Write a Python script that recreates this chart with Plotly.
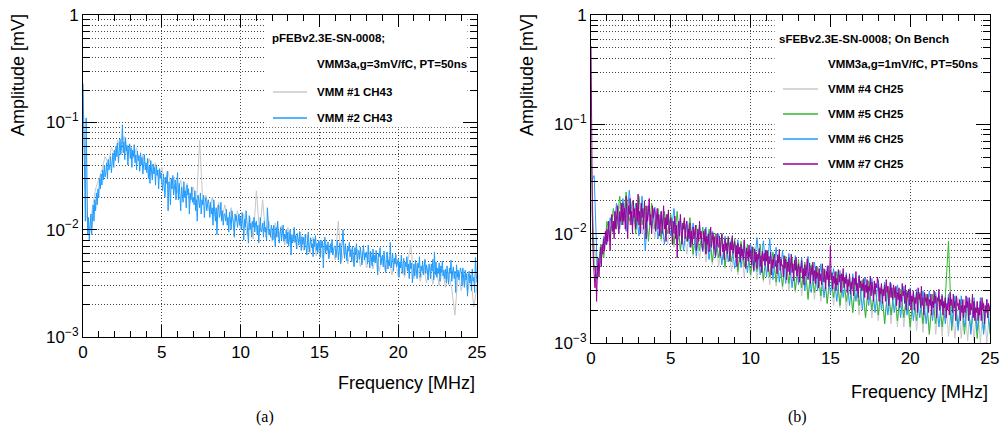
import numpy as np
import plotly.graph_objects as go

# FFT amplitude spectra; values in uV (converted to mV for plotting)
FINE_STEP = 0.05   # MHz between bins for the front traces
COARSE_STEP = 0.2  # MHz between bins for the traces behind them

# panel (a): pFEBv2.3E-SN-0008
vmm1_ch43_uv = [
    200, 14, 9, 16, 24, 30, 36, 48, 42, 58, 52, 68, 56, 74, 50, 62, 46, 58, 40, 50,
    36, 46, 33, 42, 30,
    38, 27, 35, 24, 31, 22, 29, 20, 27, 18,
    25, 17, 68, 18, 21, 15, 20, 13.5, 18, 12.5,
    17, 11.5, 16, 10.5, 15, 10, 14, 9, 13, 8.2,
    23, 9.5, 19, 8.5, 12, 7.8, 11.5, 8.5, 11, 7.2,
    10.5, 7, 10, 6.6, 9.5, 6.4, 9, 6, 8.6, 5.7,
    8, 5.5, 7.8, 5.3, 7.4, 5.2, 12, 5, 7, 4.8,
    6.8, 4.7, 6.6, 4.5, 6.4, 4.4, 6.2, 4.3, 6, 4.1,
    5.8, 4, 5.6, 3.8, 5.4, 3.7, 5.2, 3.6, 5, 7.2,
    3.5, 4.8, 3.3, 4.6, 3.2, 4.5, 3.1, 4.3, 3, 4.2,
    2.9, 4, 2.8, 1.6, 3.9, 2.7, 3.8, 2.6, 3.6, 1.9,
    3.0,
]
vmm2_ch43_uv = [
    230, 90, 30, 12, 110, 40, 9, 13, 8, 11, 14, 9, 13, 17, 12, 19, 15, 22, 17, 24,
    20, 30, 24, 33, 26, 36, 29, 40, 31, 34, 42, 30, 45, 36, 40, 48, 34, 44, 52, 38,
    55, 44, 60, 48, 64, 42, 58, 70, 50, 62, 95, 52, 66, 45, 72, 54, 61, 40, 57, 63,
    46, 58, 38, 55, 48, 62, 42, 50, 36, 54, 44, 49, 35, 52, 40, 47, 33, 45, 50, 36,
    42, 34, 46, 30, 39, 27, 44, 35, 29, 41, 33, 38, 26, 40, 32, 36, 24, 37, 30, 34,
    29, 23, 33, 26, 20, 31, 27, 35, 15, 28, 25, 17, 30, 24, 32, 21, 27, 29, 19, 26,
    34, 19, 27, 21, 15, 25, 22, 18, 28, 20, 23, 16, 26, 21, 24, 14, 22, 19, 25, 18,
    20, 17, 23, 15, 19, 12, 21, 18, 16, 22, 14, 19, 17, 21, 13, 18, 20, 15, 17, 19,
    17, 13, 18, 14, 16, 11, 19, 15, 12, 16, 9, 15, 17, 13, 14, 18, 12, 15, 11, 14,
    14, 12, 15.5, 11, 13, 9.5, 14.5, 12.5, 10, 15, 13, 11, 8.5, 14, 12, 13.5, 10.5, 12, 14, 11,
    13, 10, 14.5, 11.5, 8, 12.5, 10.5, 15, 11, 9, 7.5, 13.5, 10, 11.5, 8.5, 12, 10.5, 13, 9.5, 11.5,
    12, 9, 11, 7.5, 10.5, 13, 9.5, 10, 11.5, 8.5, 12, 9.5, 10.5, 8, 16, 12.5, 9, 10, 8.5, 11,
    10, 8, 11, 9, 7, 10.5, 8.5, 12, 9.5, 7.5, 9, 10.5, 8, 9.5, 11, 7.8, 9, 8.2, 10, 7.4,
    9.5, 7, 8.5, 10, 5.8, 9, 7.5, 8.2, 10.5, 7.6, 8.8, 6.6, 9.2, 8, 7.2, 9.6, 7.8, 6.4, 8.6, 7.3,
    8.5, 6.5, 9, 7.2, 5.8, 8, 9.5, 6.2, 7.6, 8.4, 6.8, 7.4, 5.6, 8.2, 7, 8.8, 6.4, 7.5, 6.1, 7.9,
    7.5, 5.5, 8, 6.8, 7.8, 4.4, 7.1, 8.5, 6, 7.2, 6.4, 7.7, 5.4, 6.9, 7.4, 6.1, 8.1, 5.8, 6.6, 7,
    7, 5.5, 6.5, 8, 5.2, 6.8, 7.5, 4.8, 6.2, 7.2, 10, 6.6, 5.4, 7.4, 6, 5.1, 6.9, 6.3, 7.6, 5.6,
    6.5, 5, 7, 5.6, 4.5, 6.8, 5.8, 7.4, 4.9, 6, 6.4, 5.3, 6.9, 5.7, 4.7, 6.2, 7.1, 5.2, 6.1, 5.5,
    6.2, 4.8, 7.2, 5.5, 4.4, 6.3, 5.2, 4.6, 6.6, 5, 5.8, 4.9, 6.4, 5.3, 3.8, 6, 5.6, 6.8, 4.7, 5.4,
    5.8, 4.5, 6.3, 5, 4, 5.5, 6.2, 4.3, 5.2, 4.6, 7.6, 4.4, 5.1, 6, 4.1, 5.4, 4.8, 5.9, 4.5, 5,
    5.3, 3.6, 5, 4.4, 5.8, 3.9, 4.7, 5.4, 3.8, 5, 4.5, 5.6, 4.1, 4.8, 3.5, 5.2, 4.3, 4.9, 3.2, 4.6,
    4.8, 3.7, 5.2, 4.2, 3.5, 4.9, 4.4, 5.6, 3.6, 4.6, 4.1, 5, 3.8, 4.5, 5.3, 3.9, 4.7, 4.2, 3.4, 4.8,
    4.5, 3.5, 4.8, 4.1, 5.3, 3.4, 6.2, 3.8, 5, 3.6, 4.4, 3.9, 4.9, 3.3, 4.6, 4, 5.1, 3.7, 4.2, 3.5,
    4.3, 3.2, 4.6, 3.8, 3.1, 4.4, 3.9, 5.2, 3.3, 4, 4.5, 3.5, 4.1, 2.6, 4.7, 3.6, 4.2, 3.4, 3.9, 4.4,
    4, 3, 4.4, 3.6, 2.9, 4.2, 3.4, 3.9, 2.4, 3.7, 4.1, 3.2, 3.8, 2.7, 4.3, 3.3, 3.6, 2.6, 5.5, 3.9,
    3.2,
]

# panel (b): sFEBv2.3E-SN-0008, on bench
vmm4_ch25_uv = [
    20, 8, 4.8, 7, 7.2, 11.5, 10, 15, 12, 18, 13, 19, 12, 17, 11, 18, 10, 16.5, 9.5, 16,
    9, 15, 8.5, 14, 8,
    13, 7.5, 12.5, 7, 12, 6.5, 11.5, 6.2, 11, 5.8,
    10.5, 5.5, 10, 5.2, 9.5, 5, 9, 4.8, 8.6, 4.5,
    8.2, 4.2, 7.8, 4, 7.5, 3.9, 7.2, 3.8, 7, 3.6,
    6.6, 3.4, 6.4, 3.3, 6.1, 3.1, 5.9, 3, 5.6, 2.9,
    5.4, 2.7, 5.2, 2.6, 5, 2.5, 4.8, 2.4, 4.6, 2.3,
    4.4, 2.2, 4.3, 2.1, 4.1, 2, 4, 1.9, 3.8, 1.8,
    3.7, 1.7, 3.6, 1.7, 3.5, 1.6, 3.4, 1.5, 3.3, 1.5,
    3.2, 1.4, 3.1, 1.4, 3, 1.3, 2.9, 1.3, 2.9, 1.25,
    2.8, 1.2, 2.8, 1.2, 2.7, 1.15, 2.7, 1.15, 2.6, 1.1,
    2.6, 1.1, 2.5, 1.05, 2.5, 1.05, 2.4, 1.0, 2.4, 1.0,
    2.3,
]
vmm5_ch25_uv = [
    60, 5, 3.8, 8, 6, 13, 9, 17, 11, 22, 12, 24, 13, 20, 10, 22, 12, 18, 8.5, 19,
    11, 17, 9, 16, 10,
    15, 8, 16, 7, 13, 8.5, 14, 6.5, 12, 7,
    11.5, 6.5, 11, 5.5, 10, 6, 10, 5, 9.5, 5.5,
    9, 4.5, 8.5, 5, 8, 4.2, 7.5, 4.5, 8, 3.8,
    7, 4, 6.8, 3.6, 6.5, 3.3, 6.2, 3.5, 6, 3,
    5.8, 3.2, 5.5, 2.5, 5.2, 2.9, 5, 2.7, 4.8, 2.3,
    4.6, 2.6, 4.5, 2.2, 4.3, 2.4, 4.1, 1.9, 3.9, 2.2,
    3.8, 1.7, 3.7, 2, 3.5, 1.8, 3.4, 1.5, 3.3, 1.8,
    3.2, 1.6, 3.1, 1.7, 3, 1.4, 2.9, 1.6, 2.9, 1.5,
    2.8, 1.2, 2.8, 1.5, 2.7, 1.4, 2.6, 8.5, 1.3, 2.6,
    1.4, 2.5, 1.2, 2.5, 1.3, 2.4, 1.1, 2.4, 1.3, 2.3,
    1.2,
]
vmm6_ch25_uv = [
    30, 34, 4.2, 5.5, 9.5, 8, 14, 10, 19, 11, 21, 10.5, 25, 12, 19, 9.5, 22, 7, 18, 11,
    17.5, 9, 16, 8, 15,
    9.5, 17, 8, 14, 7, 13, 7.5, 12.5, 6.2, 12,
    6.8, 11.5, 5.8, 10.5, 6, 10, 5.2, 9.5, 5.5, 9,
    4.8, 8.8, 4.9, 8.5, 4.4, 8, 4.5, 9.2, 4.2, 8.6,
    4, 9, 3.8, 7.5, 3.6, 7, 3.5, 6.6, 3.2, 6.3,
    3.4, 6, 3, 6.2, 2.9, 5.5, 3, 5.3, 2.6, 5,
    2.8, 4.8, 2.4, 4.6, 2.6, 4.4, 2.2, 4.3, 2.4, 4.2,
    2, 4, 2.2, 3.9, 1.9, 3.8, 2, 3.6, 1.8, 3.5,
    1.9, 3.4, 1.7, 3.3, 1.8, 3.2, 1.6, 3.1, 1.7, 3,
    1.5, 3, 1.6, 2.9, 1.4, 2.8, 1.5, 2.8, 1.4, 2.7,
    1.3, 2.7, 1.4, 2.6, 1.2, 2.6, 1.3, 2.6, 1.2, 2.5,
    1.3,
]
vmm7_ch25_uv = [
    520, 25, 9, 5.5, 4, 3.2, 5, 2.4, 4.5, 6, 4, 5.5, 7.5, 5, 8, 6.5, 9, 7, 10.5, 8,
    11, 8.5, 13, 10, 7, 12, 15, 10.5, 13, 9, 16, 11, 14, 18, 12, 10, 16, 13, 19, 12,
    19, 13, 17, 11, 22, 14, 9, 18, 15, 21, 12, 16, 10, 20, 14, 17, 11, 19, 13, 23,
    12, 16, 10, 19, 14, 17, 11, 20, 15, 9, 18, 13, 16, 21, 12, 15, 10, 18, 14, 17,
    16, 10.5, 14, 17, 11, 15, 9.5, 13.5, 16, 10, 12.5, 18, 11, 14, 8.5, 15, 12, 16.5, 10, 13,
    14, 11, 8, 13, 10, 14.5, 9, 12, 6, 11, 13, 9.5, 15, 10.5, 8, 12.5, 11, 14, 9, 12,
    13, 8.5, 11, 9, 12.5, 7.5, 10.5, 8, 11.5, 9, 10, 12, 7, 9.5, 11, 8.5, 13, 9, 10.5, 7.8,
    7, 10.5, 8.5, 11, 6.5, 9.5, 8, 10, 6.8, 9, 11.5, 7.5, 8.8, 10.2, 7.2, 9.4, 6.2, 8.6, 10, 7.8,
    7.5, 9.5, 6.2, 8.5, 10, 6.8, 8, 5.8, 9, 7, 8.2, 6.5, 9.2, 7.4, 5.6, 8.4, 7.1, 9.6, 6.6, 7.9,
    8.5, 6, 7.8, 5, 8.2, 6.5, 7.5, 5.5, 8, 6.2, 7.2, 5.8, 8.8, 6.4, 4.8, 7.4, 6.8, 5.6, 7.9, 6.1,
    7, 5.2, 7.6, 6, 4.6, 7.2, 5.5, 6.8, 4.8, 6.5, 5.9, 7.3, 5, 6.3, 4.4, 6.9, 5.6, 6.6, 5.1, 7.1,
    5.6, 7, 4.5, 6.2, 5.3, 6.8, 4.2, 5.8, 4.8, 6, 6.5, 5, 5.7, 4.3, 6.4, 5.4, 7.2, 4.6, 5.9, 5.1,
    5.2, 4, 6.3, 4.8, 5.8, 3.8, 5.5, 4.5, 6, 4.2, 5.1, 6.5, 4.4, 5.3, 3.7, 5.7, 4.6, 6.1, 4.1, 5,
    5.3, 3.6, 5, 4.4, 5.7, 3.9, 4.8, 3.4, 5.2, 4.1, 4.6, 5.9, 3.8, 4.5, 5.4, 3.5, 4.9, 4.2, 5.5, 3.7,
    4.6, 3.5, 5, 3.9, 4.4, 3.2, 4.8, 3.7, 4.3, 3.4, 5.3, 4, 3.6, 4.7, 3.1, 4.5, 3.8, 5.1, 3.3, 4.2,
    7.8, 3.8, 4.4, 3.1, 4.1, 3.5, 4.5, 3, 3.9, 3.4, 4.7, 3.6, 4.2, 2.9, 4.3, 3.7, 4.8, 3.2, 4, 3.5,
    4.2, 2.9, 3.8, 3.3, 4.3, 2.8, 3.6, 3.1, 4, 2.7, 3.9, 3.4, 4.5, 3, 3.5, 2.6, 4.1, 3.2, 3.7, 3,
    3.5, 3, 3.9, 2.6, 3.4, 2.9, 3.8, 2.5, 3.3, 3, 4.1, 2.7, 3.6, 3.1, 2.4, 3.7, 2.8, 3.5, 3.2, 4,
    3.6, 2.4, 3.2, 2.8, 3.5, 2.3, 3.1, 2.7, 3.4, 2.4, 3.8, 2.9, 3.3, 2.2, 3, 3.6, 2.6, 3.2, 2.5, 3.4,
    3.1, 2.6, 3.3, 2.2, 2.9, 2.5, 3.2, 2.1, 2.8, 2.4, 3.5, 2.7, 3, 2.3, 3.4, 2, 2.9, 2.6, 3.1, 2.2,
    3.1, 2, 2.7, 2.4, 3, 2, 2.6, 2.3, 2.9, 1.9, 3.2, 2.5, 2.8, 2.1, 3.3, 2.2, 2.6, 1.8, 2.9, 2.4,
    2.6, 2.2, 2.8, 1.9, 2.5, 2.2, 2.8, 1.8, 2.4, 2.1, 3, 2.3, 2.7, 1.7, 2.6, 2.4, 3.1, 2, 2.5, 2.2,
    2.7, 1.8, 2.4, 2.1, 2.6, 1.7, 2.3, 2, 2.6, 1.8, 2.9, 2.2, 2.5, 1.9, 2.8, 2.1, 2.4, 1.6, 2.7, 2.2,
    2.3, 2, 2.5, 1.6, 2.2, 1.9, 2.5, 1.7, 2.2, 1.9, 2.7, 2.1, 2.4, 1.6, 2.6, 1.8, 2.3, 2, 2.8, 1.7,
    2.4, 1.6, 2.1, 1.9, 2.4, 1.6, 2.1, 1.8, 2.4, 1.6, 2.6, 2, 2.3, 1.5, 2.2, 1.9, 2.5, 1.7, 2.3, 2,
    2.2,
]

GRAY, BLUE, GREEN, PURPLE = "#c8c8c8", "#1e9bff", "#2fb82f", "#990099"
FONT = "Liberation Sans"

# white areas behind the legends (MHz, mV)
legend_box_a = dict(x=[11.5, 24.4], y=[0.09, 1.0])
legend_box_b = dict(x=[11.5, 24.4], y=[0.032, 1.0])

W, H = 1002, 430


def px_x(p):
    return p / W


def px_y(p):
    return 1 - p / H


def freq_bins(values, step):
    return np.round(np.arange(len(values)) * step, 3)


fig = go.Figure()


def add_box(box, axis):
    x0, x1 = box["x"]
    y0, y1 = box["y"]
    fig.add_trace(go.Scatter(
        x=[x0, x1, x1, x0, x0], y=[y0, y0, y1, y1, y0], mode="lines",
        fill="toself", fillcolor="white", line=dict(width=0, color="white"),
        hoverinfo="skip", showlegend=False, xaxis="x" + axis, yaxis="y" + axis,
    ))


def add_spectrum(values, step, name, color, axis):
    fig.add_trace(
        go.Scatter(
            x=freq_bins(values, step),
            y=np.array(values) / 1000.0,
            mode="lines",
            line=dict(color=color, width=1),
            name=name,
            showlegend=False,
            xaxis="x" + axis,
            yaxis="y" + axis,
        )
    )


def add_legend(entries, line_x0, line_x1, text_x, rows_y):
    # ROOT-style legend: short coloured line sample followed by bold label
    for (name, color), y in zip(entries, rows_y):
        fig.add_shape(type="line", xref="paper", yref="paper",
                      x0=px_x(line_x0), x1=px_x(line_x1), y0=px_y(y), y1=px_y(y),
                      line=dict(color=color, width=1.5), layer="above")
        fig.add_annotation(text="<b>" + name + "</b>", x=px_x(text_x), y=px_y(y),
                           xref="paper", yref="paper", xanchor="left", yanchor="middle",
                           showarrow=False, font=dict(size=11.5, color="black"))


series_a = [
    (vmm1_ch43_uv, COARSE_STEP, "VMM #1 CH43", GRAY),
    (vmm2_ch43_uv, FINE_STEP, "VMM #2 CH43", BLUE),
]
series_b = [
    (vmm4_ch25_uv, COARSE_STEP, "VMM #4 CH25", GRAY),
    (vmm5_ch25_uv, COARSE_STEP, "VMM #5 CH25", GREEN),
    (vmm6_ch25_uv, COARSE_STEP, "VMM #6 CH25", BLUE),
    (vmm7_ch25_uv, FINE_STEP, "VMM #7 CH25", PURPLE),
]

add_box(legend_box_a, "")
add_box(legend_box_b, "2")
for values, step, name, color in series_a:
    add_spectrum(values, step, name, color, "")
for values, step, name, color in series_b:
    add_spectrum(values, step, name, color, "2")

add_legend([(s[2], s[3]) for s in series_a], 273, 307, 315, [92, 118])
add_legend([(s[2], s[3]) for s in series_b], 783, 818, 826, [89, 114, 139, 164])

DOT = "1px,2px"
decades = [0.001, 0.01, 0.1, 1]
decade_text = ["10<sup>\u22123</sup>", "10<sup>\u22122</sup>", "10<sup>\u22121</sup>", "1"]
minor_y = [m * d for d in decades[:-1] for m in range(2, 10)]


def xaxis(domain, anchor):
    return dict(
        domain=domain, anchor=anchor, range=[0, 25], tick0=0, dtick=5,
        ticks="inside", ticklen=12, tickcolor="black", showline=True,
        linecolor="black", mirror="ticks", zeroline=False, automargin=False,
        showgrid=True, gridcolor="#444", griddash=DOT, gridwidth=1,
        minor=dict(dtick=1, ticks="inside", ticklen=6, tickcolor="black", showgrid=False),
        tickfont=dict(size=17, color="black"),
    )


def yaxis(domain, anchor):
    return dict(
        domain=domain, anchor=anchor, type="log", range=[-3, 0],
        tickmode="array", tickvals=decades, ticktext=decade_text,
        ticks="inside", ticklen=14, tickcolor="black", showline=True,
        linecolor="black", mirror="ticks", zeroline=False, automargin=False,
        showgrid=True, gridcolor="#444", griddash=DOT, gridwidth=1,
        minor=dict(tickmode="array", tickvals=minor_y, ticks="inside", ticklen=7,
                   tickcolor="black", showgrid=True, gridcolor="#444",
                   griddash=DOT, gridwidth=1),
        tickfont=dict(size=17, color="black"),
    )


fig.update_layout(
    width=W, height=H,
    margin=dict(l=0, r=0, t=0, b=0, autoexpand=False),
    paper_bgcolor="white", plot_bgcolor="white",
    font=dict(family=FONT, color="black"),
    showlegend=False,
    xaxis=xaxis([px_x(83), px_x(477)], "y"),
    yaxis=yaxis([px_y(337), px_y(15)], "x"),
    xaxis2=xaxis([px_x(591), px_x(990)], "y2"),
    yaxis2=yaxis([px_y(343), px_y(15)], "x2"),
)

notes = [
    ("<b>pFEBv2.3E-SN-0008;</b>", 270, 38, 11.5, "left", FONT),
    ("<b>VMM3a,g=3mV/fC, PT=50ns</b>", 315, 64, 11.5, "left", FONT),
    ("<b>sFEBv2.3E-SN-0008; On Bench</b>", 777, 39, 11.5, "left", FONT),
    ("<b>VMM3a,g=1mV/fC, PT=50ns</b>", 826, 64, 11.5, "left", FONT),
    ("Frequency [MHz]", 477, 383, 18, "right", FONT),
    ("Frequency [MHz]", 990, 392, 18, "right", FONT),
    ("(a)", 265, 417, 16, "center", "Liberation Serif"),
    ("(b)", 797, 417, 16, "center", "Liberation Serif"),
]
for text, x, y, size, anchor, family in notes:
    fig.add_annotation(text=text, x=px_x(x), y=px_y(y), xref="paper", yref="paper",
                       xanchor=anchor, yanchor="middle", showarrow=False,
                       font=dict(size=size, family=family, color="black"))

for x in (18, 527):
    fig.add_annotation(text="Amplitude [mV]", x=px_x(x), y=px_y(12), xref="paper",
                       yref="paper", xanchor="center", yanchor="top", textangle=-90,
                       showarrow=False, font=dict(size=18, color="black"))

# the page body has a default margin; drop it so the figure fills the window
fig.write_html("out.html", config={"displayModeBar": False},
               post_script="document.body.style.margin='0';")
